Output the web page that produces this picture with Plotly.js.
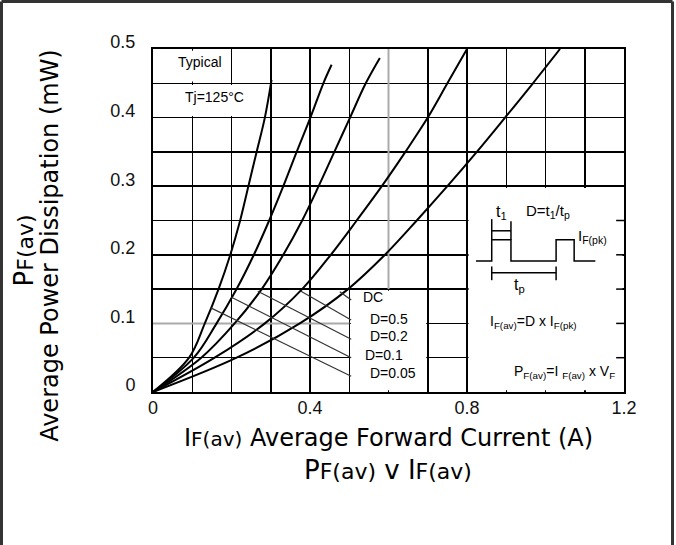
<!DOCTYPE html>
<html><head><meta charset="utf-8">
<script src="https://cdn.plot.ly/plotly-3.0.1.min.js"></script>
<style>html,body{margin:0;padding:0;background:#fff}#chart{width:676px;height:545px}</style>
</head><body><div id="chart"></div>
<script>
// ---- tick labels ----
const xTickVals = [0, 0.4, 0.8, 1.2];
const xTickText = ["0", "0.4", "0.8", "1.2"];
const yTickVals = [0, 0.1, 0.2, 0.3, 0.4, 0.5];
const yTickText = ["0", "0.1", "0.2", "0.3", "0.4", "0.5"];

// ---- curves (IF(av) in A, PF(av)) ----
const curveD005X = [0, 0.092, 0.132, 0.167, 0.197, 0.222, 0.243, 0.264, 0.285, 0.302];
const curveD005Y = [0, 0.05, 0.10, 0.15, 0.20, 0.25, 0.30, 0.35, 0.40, 0.455];
const curveD01X = [0, 0.104, 0.162, 0.213, 0.257, 0.296, 0.332, 0.366, 0.401, 0.434, 0.455];
const curveD01Y = [0, 0.05, 0.10, 0.15, 0.20, 0.25, 0.30, 0.35, 0.40, 0.45, 0.477];
const curveD02X = [0, 0.123, 0.208, 0.277, 0.332, 0.380, 0.422, 0.462, 0.502, 0.542, 0.578];
const curveD02Y = [0, 0.05, 0.10, 0.15, 0.20, 0.25, 0.30, 0.35, 0.40, 0.45, 0.487];
const curveD05X = [0, 0.157, 0.285, 0.380, 0.453, 0.519, 0.583, 0.643, 0.700, 0.750, 0.800];
const curveD05Y = [0, 0.05, 0.10, 0.15, 0.20, 0.25, 0.30, 0.35, 0.40, 0.45, 0.500];
const curveDCX = [0, 0.213, 0.374, 0.497, 0.591, 0.672, 0.750, 0.825, 0.897, 0.968, 1.037];
const curveDCY = [0, 0.05, 0.10, 0.15, 0.20, 0.25, 0.30, 0.35, 0.40, 0.45, 0.500];

// ---- leader lines from curves to the duty-cycle labels ----
const dutyLabels = ["DC", "D=0.5", "D=0.2", "D=0.1", "D=0.05"];
const leaderStartX = [0.476, 0.377, 0.267, 0.200, 0.146];
const leaderStartY = [0.146, 0.147, 0.147, 0.138, 0.123];
const leaderEndX = [0.505, 0.505, 0.505, 0.505, 0.505];
const leaderEndY = [0.134, 0.105, 0.077, 0.050, 0.023];

const FONT = "Liberation Sans, Arial, Helvetica, sans-serif";
const TFONT = "DejaVu Sans, Liberation Sans, sans-serif";

const curveLine = {color: "#000", width: 2, shape: "spline", smoothing: 1};
const traces = [
  {x: curveD005X, y: curveD005Y},
  {x: curveD01X, y: curveD01Y},
  {x: curveD02X, y: curveD02Y},
  {x: curveD05X, y: curveD05Y},
  {x: curveDCX, y: curveDCY}
].map(t => Object.assign(t, {type: "scatter", mode: "lines", line: curveLine, hoverinfo: "skip", showlegend: false}));

dutyLabels.forEach((lab, i) => {
  traces.push({type: "scatter", mode: "lines", x: [leaderStartX[i], leaderEndX[i]], y: [leaderStartY[i], leaderEndY[i]],
    line: {color: "#333", width: 1.2}, hoverinfo: "skip", showlegend: false});
});

// label positions (data coords)
const dutyLabelPos = [[0.531, 0.138], [0.548, 0.107], [0.548, 0.0816], [0.535, 0.054], [0.548, 0.0273]];

const annotations = [];
dutyLabels.forEach((lab, i) => {
  annotations.push({x: dutyLabelPos[i][0], y: dutyLabelPos[i][1], xref: "x", yref: "y", text: lab, showarrow: false,
    xanchor: "left", yanchor: "middle", font: {family: FONT, size: 14, color: "#000"}});
});
const small = (t, x, y, opts) => Object.assign({x: x, y: y, xref: "x", yref: "y", text: t, showarrow: false,
  xanchor: "center", yanchor: "middle", font: {family: FONT, size: 14, color: "#000"}}, opts || {});
annotations.push(small("Typical", 0.119, 0.481));
annotations.push(small("Tj=125°C", 0.157, 0.430));
annotations.push(small("t<sub>1</sub>", 0.888, 0.261, {font: {family: FONT, size: 16, color: "#000"}}));
annotations.push(small("D=t<sub>1</sub>/t<sub>p</sub>", 1.006, 0.263, {font: {family: FONT, size: 15, color: "#000"}}));
annotations.push(small("I<sub>F(pk)</sub>", 1.077, 0.227, {xanchor: "left", font: {family: FONT, size: 15, color: "#000"}}));
annotations.push(small("t<sub>p</sub>", 0.934, 0.155, {font: {family: FONT, size: 16, color: "#000"}}));
annotations.push(small("I<sub>F(av)</sub>=D x I<sub>F(pk)</sub>", 0.853, 0.102, {xanchor: "left"}));
annotations.push(small("P<sub>F(av)</sub>=I <sub>F(av)</sub> x V<sub>F</sub>", 0.914, 0.029, {xanchor: "left"}));

// axis titles (paper coords)
const ptitle = (t, x, y, size, angle) => annotations.push({xref: "paper", yref: "paper", x: x, y: y, textangle: angle || 0,
  showarrow: false, xanchor: "center", yanchor: "middle", text: t, font: {family: TFONT, size: size, color: "#000"}});
ptitle("P<span style='font-size:22px'>F(av)</span>", -0.273, 0.414, 26, -90);
ptitle("Average Power Dissipation (mW)", -0.219, 0.4286, 24, -90);
ptitle("I<span style='font-size:20px'>F(av)</span> Average Forward Current (A)", 0.499, -0.134, 24);
ptitle("P<span style='font-size:22px'>F(av)</span> v I<span style='font-size:22px'>F(av)</span>", 0.499, -0.228, 26);

const shapes = [];
const cover = (x0, x1, y0, y1) => shapes.push({type: "rect", xref: "x", yref: "y", x0, x1, y0, y1,
  fillcolor: "#fff", line: {width: 0}, layer: "between"});
cover(0.004, 0.196, 0.4525, 0.4975);   // "Typical" box
cover(0.004, 0.296, 0.4025, 0.4475);   // "Tj" box
cover(0.504, 0.696, 0.0025, 0.1475);   // duty label box
cover(0.804, 1.196, 0.0025, 0.2975);   // inset box
const seg = (x0, y0, x1, y1, color, w, layer) => shapes.push({type: "line", xref: "x", yref: "y", x0, y0, x1, y1,
  line: {color: color, width: w}, layer: layer || "between"});
seg(0.6, 0.15, 0.6, 0.5, "#aaa", 2);
seg(0, 0.1, 0.5, 0.1, "#aaa", 2);
[0.05, 0.1, 0.15, 0.2, 0.25].forEach(v => seg(1.18, v, 1.2, v, "#000", 1.5));
// waveform in the inset
shapes.push({type: "path", xref: "x", yref: "y", layer: "above", line: {color: "#000", width: 1.5},
  path: "M0.823,0.191 L0.863,0.191 L0.863,0.222 L0.912,0.222 L0.912,0.191 L1.027,0.191 L1.027,0.222 L1.073,0.222 L1.073,0.191 L1.127,0.191"});
seg(0.863, 0.222, 0.863, 0.252, "#000", 1.5, "above");
seg(0.912, 0.222, 0.912, 0.249, "#000", 1.5, "above");
seg(0.863, 0.235, 0.912, 0.235, "#000", 1.5, "above");
seg(0.863, 0.174, 1.027, 0.174, "#000", 1.5, "above");
seg(0.863, 0.163, 0.863, 0.183, "#000", 1.5, "above");
seg(1.027, 0.163, 1.027, 0.183, "#000", 1.5, "above");
// page frame
const pline = (x0, y0, x1, y1) => shapes.push({type: "line", xref: "paper", yref: "paper", x0, y0, x1, y1,
  line: {color: "#333", width: 3}, layer: "above"});
pline(-0.3217, 1.1385, 1.103, 1.1385);
pline(-0.3217, 1.1385, -0.3217, -0.5);
pline(1.103, 1.1385, 1.103, -0.5);

const axisCommon = {showgrid: true, gridcolor: "#000", gridwidth: 1.5, zeroline: false, showline: true, mirror: true,
  linecolor: "#000", linewidth: 2, ticks: "", tickmode: "array", fixedrange: true,
  tickfont: {family: FONT, size: 18, color: "#111"}};
const layout = {
  width: 676, height: 545, margin: {l: 153, r: 52, t: 49, b: 153},
  paper_bgcolor: "#fff", plot_bgcolor: "#fff", showlegend: false,
  xaxis: Object.assign({}, axisCommon, {range: [0, 1.2], tickvals: xTickVals, ticktext: xTickText, ticklabelstandoff: -2,
    minor: {tick0: 0, dtick: 0.1, showgrid: true, gridcolor: "#000", gridwidth: 1.5, ticks: ""}}),
  yaxis: Object.assign({}, axisCommon, {range: [0, 0.5], tickvals: yTickVals, ticktext: yTickText, ticklabelstandoff: 12, ticklabelshift: -7,
    minor: {tick0: 0, dtick: 0.05, showgrid: true, gridcolor: "#000", gridwidth: 1.5, ticks: ""}}),
  annotations: annotations, shapes: shapes
};
Plotly.newPlot("chart", traces, layout, {staticPlot: true, displayModeBar: false});
</script></body></html>
